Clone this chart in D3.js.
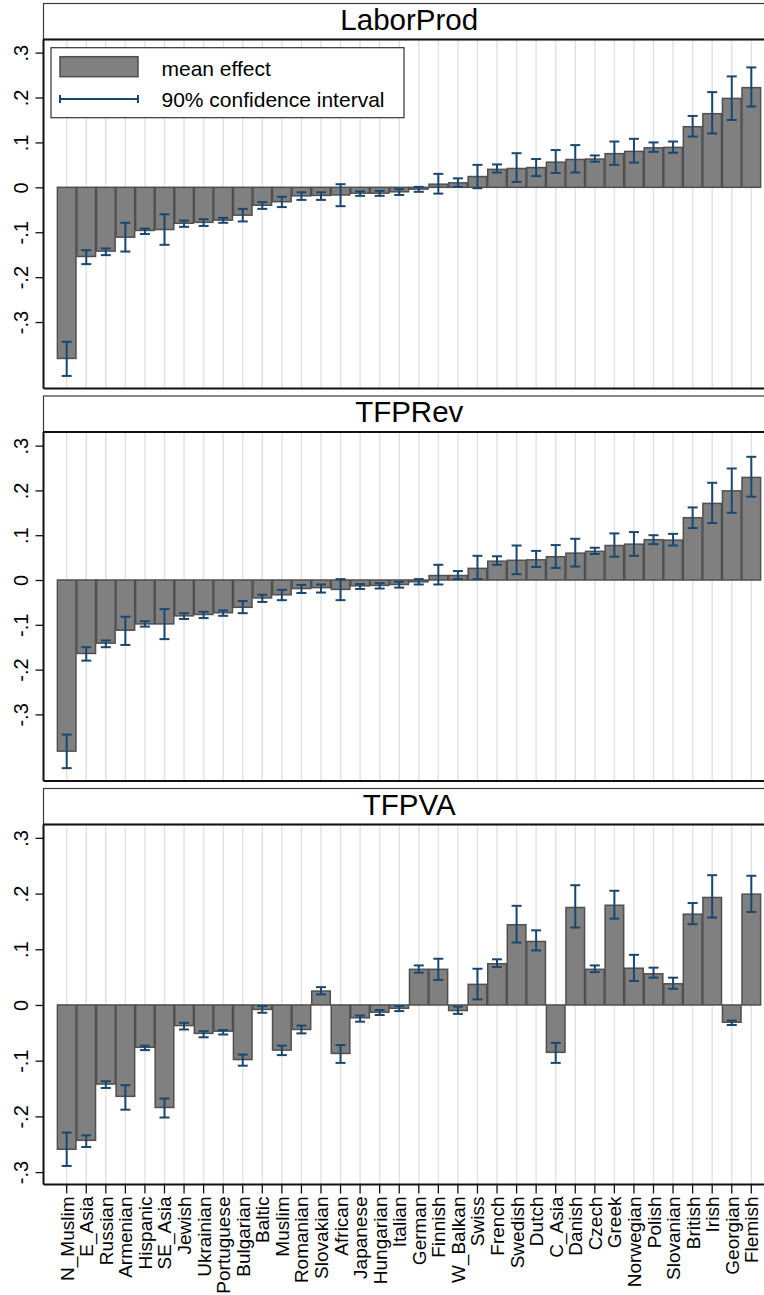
<!DOCTYPE html>
<meta charset="utf-8">
<style>
body { margin: 0; background: #fff; }
svg { display: block; font-family: "Liberation Sans", Arial, Helvetica, sans-serif; }
.grid line { stroke: #e3e3e3; stroke-width: 1.5px; }
.bars rect { fill: #808080; stroke: #4f4f4f; stroke-width: 1.5px; }
.ci line { stroke: #1a476f; stroke-width: 2px; }
</style>
<svg width="764" height="1295"></svg>
<script src="https://d3js.org/d3.v7.min.js"></script>
<script>
let svg = d3.select("svg");

let categories = ["N_Muslim","E_Asia","Russian","Armenian","Hispanic","SE_Asia","Jewish","Ukrainian",
  "Portuguese","Bulgarian","Baltic","Muslim","Romanian","Slovakian","African","Japanese","Hungarian",
  "Italian","German","Finnish","W_Balkan","Swiss","French","Swedish","Dutch","C_Asia","Danish","Czech",
  "Greek","Norwegian","Polish","Slovanian","British","Irish","Georgian","Flemish"];

// LaborProd
let laborMean = [-0.381,-0.154,-0.142,-0.111,-0.096,-0.094,-0.080,-0.078,-0.073,-0.062,-0.040,-0.032,
  -0.019,-0.018,-0.017,-0.013,-0.013,-0.010,-0.004,0.007,0.010,0.024,0.040,0.042,0.044,0.056,0.062,0.063,
  0.075,0.080,0.088,0.089,0.135,0.164,0.198,0.222];
let laborLo = [-0.420,-0.171,-0.151,-0.143,-0.104,-0.128,-0.088,-0.086,-0.079,-0.076,-0.048,-0.044,
  -0.028,-0.028,-0.042,-0.019,-0.019,-0.017,-0.010,-0.014,0.001,-0.002,0.033,0.012,0.025,0.032,0.033,0.057,
  0.050,0.055,0.079,0.077,0.113,0.120,0.150,0.180];
let laborHi = [-0.344,-0.140,-0.136,-0.079,-0.092,-0.060,-0.074,-0.071,-0.068,-0.048,-0.033,-0.021,
  -0.011,-0.011,0.007,-0.009,-0.008,-0.004,0.001,0.030,0.020,0.050,0.051,0.076,0.063,0.083,0.094,0.071,
  0.102,0.108,0.100,0.102,0.159,0.212,0.247,0.267];

// TFPRev
let revMean = [-0.382,-0.164,-0.141,-0.112,-0.098,-0.098,-0.080,-0.077,-0.073,-0.061,-0.040,-0.033,
  -0.019,-0.017,-0.021,-0.013,-0.012,-0.010,-0.004,0.010,0.010,0.026,0.042,0.044,0.045,0.052,0.060,0.064,
  0.077,0.080,0.090,0.089,0.139,0.171,0.199,0.229];
let revLo = [-0.420,-0.180,-0.150,-0.145,-0.104,-0.132,-0.087,-0.085,-0.080,-0.074,-0.049,-0.045,
  -0.029,-0.028,-0.045,-0.020,-0.019,-0.017,-0.010,-0.010,0.002,0.002,0.034,0.013,0.029,0.027,0.030,0.058,
  0.052,0.054,0.080,0.077,0.116,0.127,0.150,0.186];
let revHi = [-0.345,-0.150,-0.135,-0.082,-0.092,-0.065,-0.074,-0.071,-0.068,-0.047,-0.033,-0.022,
  -0.011,-0.010,0.002,-0.009,-0.007,-0.004,0.002,0.034,0.020,0.054,0.053,0.077,0.065,0.078,0.092,0.072,
  0.104,0.107,0.100,0.103,0.162,0.217,0.249,0.275];

// TFPVA
let vaMean = [-0.259,-0.243,-0.142,-0.164,-0.076,-0.184,-0.037,-0.051,-0.047,-0.098,-0.008,-0.081,
  -0.044,0.025,-0.087,-0.023,-0.013,-0.006,0.064,0.064,-0.010,0.037,0.074,0.144,0.114,-0.085,0.175,0.064,
  0.179,0.066,0.056,0.038,0.163,0.193,-0.031,0.199];
let vaLo = [-0.289,-0.255,-0.149,-0.188,-0.081,-0.202,-0.044,-0.058,-0.053,-0.109,-0.014,-0.090,
  -0.051,0.019,-0.104,-0.030,-0.018,-0.011,0.058,0.045,-0.016,0.010,0.068,0.112,0.098,-0.104,0.139,0.059,
  0.155,0.043,0.049,0.029,0.145,0.157,-0.036,0.167];
let vaHi = [-0.229,-0.234,-0.137,-0.144,-0.073,-0.168,-0.032,-0.047,-0.045,-0.089,-0.002,-0.073,
  -0.037,0.032,-0.072,-0.019,-0.009,-0.002,0.071,0.083,-0.003,0.065,0.082,0.178,0.134,-0.068,0.215,0.071,
  0.205,0.090,0.067,0.049,0.183,0.233,-0.028,0.232];

let yTicks = [-0.3, -0.2, -0.1, 0, 0.1, 0.2, 0.3];

let panels = [
  {title: "LaborProd", mean: laborMean, lo: laborLo, hi: laborHi, top: 3.5, plotTop: 39.5, bottom: 388.5, domain: [-0.448, 0.3292]},
  {title: "TFPRev", mean: revMean, lo: revLo, hi: revHi, top: 396, plotTop: 432, bottom: 781, domain: [-0.4487, 0.3304]},
  {title: "TFPVA", mean: vaMean, lo: vaLo, hi: vaHi, top: 788.5, plotTop: 824.5, bottom: 1184.5, domain: [-0.3223, 0.324]}
];

let left = 43.5, right = 775;

let x = d3.scaleBand()
  .domain(categories)
  .range([57.4, 760.6])
  .paddingInner(0.05)
  .paddingOuter(0);
let bw = x.bandwidth();
let cx = function(c) { return x(c) + bw / 2; };

function fmt(v) {
  if (v === 0) return "0";
  return d3.format(".1f")(v).replace("0.", ".").replace("−", "-");
}

panels.forEach(function(p, pi) {
  let y = d3.scaleLinear().domain(p.domain).range([p.bottom, p.plotTop]);
  let g = svg.append("g");

  // header strip
  g.append("rect")
    .attr("x", left).attr("y", p.top)
    .attr("width", right - left).attr("height", p.plotTop - p.top)
    .attr("fill", "#fff").attr("stroke", "#3a3a3a").attr("stroke-width", 1.2);
  g.append("text")
    .attr("x", (left + right) / 2).attr("y", p.top + 26)
    .attr("text-anchor", "middle")
    .style("font-size", "29.5px")
    .text(p.title);

  // vertical grid at each category
  g.append("g").attr("class", "grid")
    .selectAll("line").data(categories).enter().append("line")
    .attr("x1", cx).attr("x2", cx)
    .attr("y1", p.plotTop).attr("y2", p.bottom);

  // bars
  g.append("g").attr("class", "bars")
    .selectAll("rect").data(categories).enter().append("rect")
    .attr("x", function(c) { return x(c); })
    .attr("width", bw)
    .attr("y", function(c, i) { return y(Math.max(0, p.mean[i])); })
    .attr("height", function(c, i) { return Math.abs(y(p.mean[i]) - y(0)); });

  // confidence intervals
  let ci = g.append("g").attr("class", "ci")
    .selectAll("g").data(categories).enter().append("g");
  ci.append("line")
    .attr("x1", cx).attr("x2", cx)
    .attr("y1", function(c, i) { return y(p.lo[i]); })
    .attr("y2", function(c, i) { return y(p.hi[i]); });
  ci.append("line")
    .attr("x1", function(c) { return cx(c) - 5; }).attr("x2", function(c) { return cx(c) + 5; })
    .attr("y1", function(c, i) { return y(p.lo[i]); })
    .attr("y2", function(c, i) { return y(p.lo[i]); });
  ci.append("line")
    .attr("x1", function(c) { return cx(c) - 5; }).attr("x2", function(c) { return cx(c) + 5; })
    .attr("y1", function(c, i) { return y(p.hi[i]); })
    .attr("y2", function(c, i) { return y(p.hi[i]); });

  // frame: top, left axis, bottom
  g.append("line").attr("x1", left).attr("x2", right).attr("y1", p.plotTop).attr("y2", p.plotTop)
    .attr("stroke", "#111").attr("stroke-width", 2.2);

  let yAxis = g.append("g")
    .attr("transform", "translate(" + left + ",0)")
    .call(d3.axisLeft(y).tickValues(yTicks).tickSize(8).tickPadding(0).tickFormat(fmt));
  yAxis.select(".domain").attr("d", "M0," + p.plotTop + "V" + p.bottom)
    .attr("stroke", "#111").attr("stroke-width", 2);
  yAxis.selectAll(".tick line").attr("stroke", "#111").attr("stroke-width", 1.3);
  yAxis.selectAll(".tick text")
    .attr("x", null).attr("dy", null)
    .attr("transform", "translate(-16,0) rotate(-90)")
    .attr("text-anchor", "middle")
    .attr("fill", "#000")
    .style("font-size", "20px")
    .style("font-family", "Liberation Sans, Arial, sans-serif");

  let xAxis = g.append("g")
    .attr("transform", "translate(0," + p.bottom + ")")
    .call(d3.axisBottom(x).tickSize(pi === 2 ? 9 : 0).tickSizeOuter(0).tickFormat(pi === 2 ? null : ""));
  xAxis.select(".domain").attr("d", "M" + left + ",0H" + right)
    .attr("stroke", "#111").attr("stroke-width", 2);
  xAxis.selectAll(".tick line").attr("stroke", "#111").attr("stroke-width", 1.3);
  if (pi === 2) {
    xAxis.selectAll(".tick text")
      .attr("y", null).attr("dy", null)
      .attr("transform", "translate(7,12) rotate(-90)")
      .attr("text-anchor", "end")
      .attr("fill", "#000")
      .style("font-size", "19px")
      .style("font-family", "Liberation Sans, Arial, sans-serif");
  }
});

// legend in the first panel
let lg = svg.append("g");
lg.append("rect").attr("x", 51).attr("y", 47.7).attr("width", 353).attr("height", 70)
  .attr("fill", "#fff").attr("stroke", "#333").attr("stroke-width", 1.2);
lg.append("rect").attr("x", 60).attr("y", 56.7).attr("width", 78).attr("height", 20)
  .attr("fill", "#808080").attr("stroke", "#4f4f4f").attr("stroke-width", 1.5);
lg.append("line").attr("x1", 60).attr("x2", 138).attr("y1", 99).attr("y2", 99)
  .attr("stroke", "#1a476f").attr("stroke-width", 2);
[60, 138].forEach(function(px) {
  lg.append("line").attr("x1", px).attr("x2", px).attr("y1", 95).attr("y2", 103)
    .attr("stroke", "#1a476f").attr("stroke-width", 2);
});
lg.append("text").attr("x", 161.5).attr("y", 76).style("font-size", "21px").text("mean effect");
lg.append("text").attr("x", 161.5).attr("y", 107).style("font-size", "21px").text("90% confidence interval");
</script>
